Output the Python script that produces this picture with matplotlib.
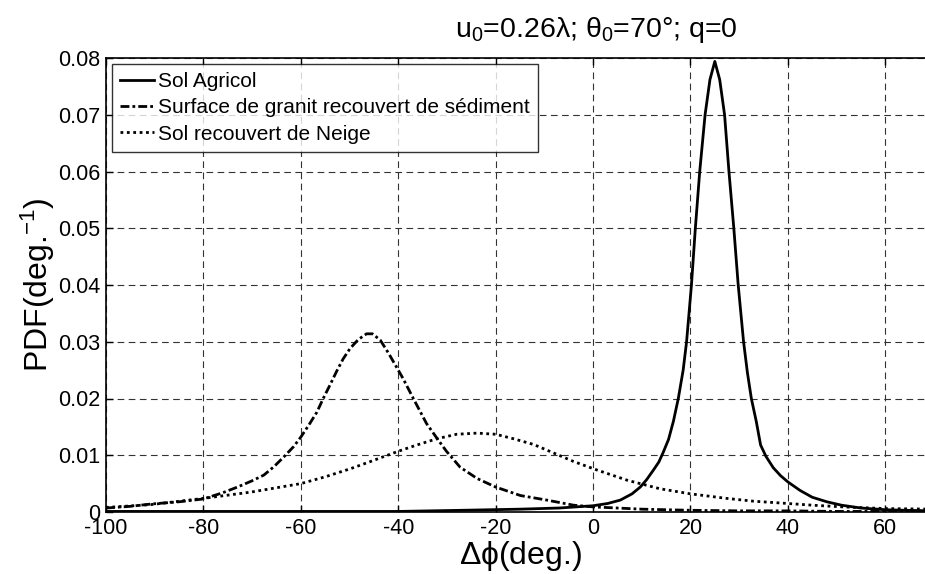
import matplotlib.pyplot as plt

plt.rcParams['font.family'] = ['Liberation Sans', 'DejaVu Sans']
plt.rcParams['mathtext.fontset'] = 'custom'
plt.rcParams['mathtext.rm'] = 'Liberation Sans'
plt.rcParams['mathtext.it'] = 'Liberation Sans'

# Sol Agricol (solid)
x_agri = [-100, -80, -60, -40, -27, -15, -7, 0, 3, 5.6, 8, 9.7, 11, 12.4, 13.5, 14.4,
          15.5, 16.5, 17.5, 18.5, 19.2, 20.2, 21, 21.9, 23, 24, 25, 26, 27, 27.9, 28.9,
          29.8, 30.9, 31.7, 32.5, 33.5, 34.4, 35.5, 37, 38.5, 40, 42.5, 45, 48, 51, 55,
          60, 64, 70]
y_agri = [0.0001, 0.0001, 0.0001, 0.0001, 0.0003, 0.0005, 0.0007, 0.0011, 0.0015, 0.0021,
          0.0032, 0.0044, 0.0057, 0.0074, 0.0088, 0.0105, 0.0128, 0.0160, 0.0200, 0.0250,
          0.0300, 0.0400, 0.0500, 0.0600, 0.0700, 0.0762, 0.0794, 0.0762, 0.0700, 0.0600,
          0.0500, 0.0400, 0.0300, 0.0245, 0.0200, 0.0160, 0.0118, 0.0098, 0.0078, 0.0064,
          0.0053, 0.0038, 0.0026, 0.0018, 0.0012, 0.0007, 0.0004, 0.0003, 0.0002]

# Surface de granit recouvert de sediment (dash-dot)
x_gran = [-100, -95, -90.8, -85, -80, -76, -73, -70, -67.6, -65.5, -63.5, -61.5, -60,
          -58.3, -56.7, -55.4, -54, -52.7, -51.3, -49.9, -48.2, -46.5, -45.3, -43.7, -42,
          -40, -39, -36.9, -34.2, -31.8, -30.1, -27.3, -23.8, -20, -14.9, -9.5, -4, 0,
          10, 20, 30, 40, 50, 60, 70]
y_gran = [0.0007, 0.0010, 0.0014, 0.0018, 0.0023, 0.0034, 0.0044, 0.0055, 0.0065, 0.0080,
          0.0097, 0.0115, 0.0132, 0.0154, 0.0176, 0.0200, 0.0224, 0.0247, 0.0270, 0.0288,
          0.0304, 0.0314, 0.0314, 0.0303, 0.0280, 0.0250, 0.0235, 0.0200, 0.0156, 0.0127,
          0.0107, 0.0079, 0.0059, 0.0044, 0.0029, 0.0021, 0.0012, 0.0009, 0.0005, 0.0003,
          0.0002, 0.0002, 0.0001, 0.0001, 0.0001]

# Sol recouvert de Neige (dotted)
x_neig = [-100, -90.8, -80, -70.3, -60, -55, -49.9, -46, -43.8, -40, -36.2, -32.1, -28,
          -23.8, -20, -16.3, -12.2, -8.1, -4, 0.8, 7, 13.7, 20, 27.4, 33, 40, 45, 51.3,
          60, 70]
y_neig = [0.0008, 0.0013, 0.0024, 0.0035, 0.0050, 0.0062, 0.0076, 0.0088, 0.0095, 0.0107,
          0.0118, 0.0129, 0.0137, 0.0139, 0.0137, 0.0129, 0.0119, 0.0104, 0.0089, 0.0074,
          0.0056, 0.0041, 0.0032, 0.0024, 0.0019, 0.0015, 0.0012, 0.0009, 0.0006, 0.0005]

labels = ['Sol Agricol', 'Surface de granit recouvert de sédiment', 'Sol recouvert de Neige']
xticks = [-100, -80, -60, -40, -20, 0, 20, 40, 60]
yticks = [0, 0.01, 0.02, 0.03, 0.04, 0.05, 0.06, 0.07, 0.08]

fig = plt.figure(figsize=(9.25, 5.74), dpi=100)
# axes runs a bit past the right edge of the picture (image was cropped)
ax = fig.add_axes([106 / 925, (574 - 512) / 574, 828 / 925, 454 / 574])

lw = 2.0
ax.plot(x_agri, y_agri, color='k', linestyle='-', lw=lw, label=labels[0])
ax.plot(x_gran, y_gran, color='k', linestyle=(0, (3.2, 1.1, 1, 1.1)), lw=lw, label=labels[1])
ax.plot(x_neig, y_neig, color='k', linestyle=(0, (1, 1.3)), lw=lw, label=labels[2])

ax.set_xlim(-100, 70)
ax.set_ylim(0, 0.08)
ax.set_xticks(xticks)
ax.set_yticks(yticks)
ax.set_xticklabels([str(v) for v in xticks])
ax.set_yticklabels(['0'] + ['%.2f' % v for v in yticks[1:]])
ax.tick_params(direction='in', length=5, width=1, labelsize=15.5, pad=4,
               top=True, right=True)
ax.grid(True, color='0.2', linestyle=(0, (6, 4)), linewidth=0.8)
for s in ax.spines.values():
    s.set_linewidth(1.2)

ax.set_xlabel(r'$\Delta\phi$(deg.)', fontsize=23, labelpad=0)
ax.set_ylabel(r'PDF(deg.$^{-1}$)', fontsize=23, labelpad=1)
ax.set_title(r'u$_0$=0.26$\lambda$; $\theta_0$=70°; q=0', fontsize=20.5, pad=15, x=0.592)

leg = ax.legend(loc='upper left', fontsize=15, frameon=True, fancybox=False,
                edgecolor='k', handlelength=1.6, handletextpad=0.2, labelspacing=0.35,
                borderpad=0.4, borderaxespad=0.28)
leg.get_frame().set_linewidth(1.0)

fig.savefig('out.png', dpi=100)
